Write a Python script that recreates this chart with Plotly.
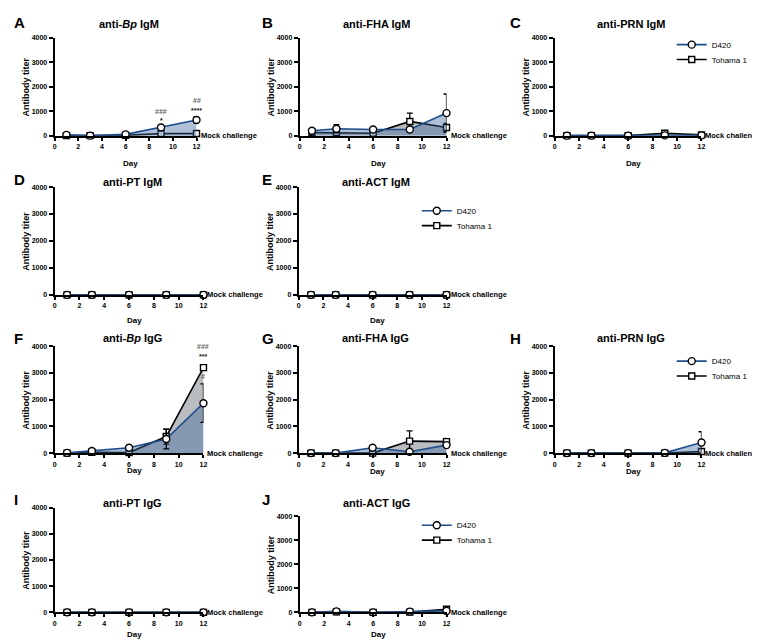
import plotly.graph_objects as go

# ---------------- data ----------------
days = [1, 3, 6, 9, 12]
x_ticks = [0, 2, 4, 6, 8, 10, 12]
y_ticks = [0, 1000, 2000, 3000, 4000]
series_names = ["D420", "Tohama 1"]

panel_letters = ["A", "B", "C", "D", "E", "F", "G", "H", "I", "J"]
panel_titles = ["anti-<i>Bp</i> IgM", "anti-FHA IgM", "anti-PRN IgM", "anti-PT IgM", "anti-ACT IgM",
                "anti-<i>Bp</i> IgG", "anti-FHA IgG", "anti-PRN IgG", "anti-PT IgG", "anti-ACT IgG"]

# D420 means / SEM
d420_bp_igm = [30, 0, 50, 330, 640]
d420_bp_igm_err = [20, 0, 20, 40, 130]
d420_fha_igm = [200, 280, 250, 250, 920]
d420_fha_igm_err = [40, 170, 40, 30, 780]
d420_prn_igm = [0, 0, 0, 10, 10]
d420_prn_igm_err = [0, 0, 0, 0, 0]
d420_pt_igm = [0, 0, 0, 0, 0]
d420_pt_igm_err = [0, 0, 0, 0, 0]
d420_act_igm = [0, 0, 0, 0, 0]
d420_act_igm_err = [0, 0, 0, 0, 0]
d420_bp_igg = [10, 80, 200, 530, 1870]
d420_bp_igg_err = [10, 20, 80, 370, 720]
d420_fha_igg = [0, 0, 200, 50, 300]
d420_fha_igg_err = [0, 0, 80, 20, 60]
d420_prn_igg = [0, 0, 0, 10, 400]
d420_prn_igg_err = [0, 0, 0, 10, 400]
d420_pt_igg = [0, 0, 0, 0, 0]
d420_pt_igg_err = [0, 0, 0, 0, 0]
d420_act_igg = [0, 40, 0, 30, 60]
d420_act_igg_err = [0, 10, 0, 10, 20]

# Tohama 1 means / SEM
toh_bp_igm = [0, 0, 10, 90, 90]
toh_bp_igm_err = [0, 0, 5, 10, 10]
toh_fha_igm = [130, 130, 100, 580, 330]
toh_fha_igm_err = [20, 40, 20, 340, 170]
toh_prn_igm = [0, 0, 0, 100, 30]
toh_prn_igm_err = [0, 0, 0, 0, 0]
toh_pt_igm = [0, 0, 0, 0, 0]
toh_pt_igm_err = [0, 0, 0, 0, 0]
toh_act_igm = [0, 0, 0, 0, 0]
toh_act_igm_err = [0, 0, 0, 0, 0]
toh_bp_igg = [0, 30, 20, 620, 3200]
toh_bp_igg_err = [0, 10, 10, 280, 20]
toh_fha_igg = [0, 0, 0, 450, 430]
toh_fha_igg_err = [0, 0, 0, 380, 120]
toh_prn_igg = [0, 0, 0, 0, 60]
toh_prn_igg_err = [0, 0, 0, 0, 10]
toh_pt_igg = [0, 0, 0, 0, 0]
toh_pt_igg_err = [0, 0, 0, 0, 0]
toh_act_igg = [0, 20, 0, 10, 130]
toh_act_igg_err = [0, 5, 0, 5, 20]

d420_all = [d420_bp_igm, d420_fha_igm, d420_prn_igm, d420_pt_igm, d420_act_igm,
            d420_bp_igg, d420_fha_igg, d420_prn_igg, d420_pt_igg, d420_act_igg]
d420_err_all = [d420_bp_igm_err, d420_fha_igm_err, d420_prn_igm_err, d420_pt_igm_err, d420_act_igm_err,
                d420_bp_igg_err, d420_fha_igg_err, d420_prn_igg_err, d420_pt_igg_err, d420_act_igg_err]
toh_all = [toh_bp_igm, toh_fha_igm, toh_prn_igm, toh_pt_igm, toh_act_igm,
           toh_bp_igg, toh_fha_igg, toh_prn_igg, toh_pt_igg, toh_act_igg]
toh_err_all = [toh_bp_igm_err, toh_fha_igm_err, toh_prn_igm_err, toh_pt_igm_err, toh_act_igm_err,
               toh_bp_igg_err, toh_fha_igg_err, toh_prn_igg_err, toh_pt_igg_err, toh_act_igg_err]

# significance marks: (panel index, day, y value, text, colour)
sig_marks = [
    (0, 9, 1000, "###", "#666"), (0, 9, 600, "*", "#222"),
    (0, 12, 1430, "##", "#666"), (0, 12, 1020, "****", "#222"),
    (5, 12, 3990, "###", "#666"), (5, 12, 3600, "***", "#222"),
    (5, 12, 2880, "#", "#666"),
]
legend_panels = [2, 4, 7, 9]

# ---------------- geometry (pixels) ----------------
W, H = 760, 639
# (x at 0, x at 12, y px at 4000, y px at 0)
geo = [
    (45, 188, 26, 125), (292, 440, 26, 125), (549, 697, 26, 125),
    (45, 195, 177, 286), (291, 440, 177, 286),
    (45, 195, 338, 446), (291, 440, 338, 446), (549, 697, 338, 446),
    (45, 195, 501, 607), (292, 440, 510, 607),
]
letter_pos = [(2, 11), (252, 11), (502, 11), (2, 169), (252, 169),
              (2, 330), (252, 330), (502, 330), (2, 493), (252, 493)]
title_y = [12, 12, 12, 172, 172, 330, 330, 330, 496, 496]
day_y = [153, 153, 153, 312, 312, 464, 465, 465, 629, 629]
legend_y = [33, 201, 353, 519]

FONT = "Liberation Sans, Arial, sans-serif"
BLUE = "#1f4e8c"
fill_d420 = "rgba(55,100,155,0.40)"
fill_toh = "rgba(70,80,92,0.38)"
MSIZE = 7

def px(x):
    return x / W

def py(y):
    return 1 - y / H

fig = go.Figure()
annotations = []
layout = dict(width=W, height=H, margin=dict(l=0, r=0, t=0, b=0),
              paper_bgcolor="white", plot_bgcolor="white",
              font=dict(family=FONT, color="black"), showlegend=True)

for i in range(10):
    n = "" if i == 0 else str(i + 1)
    xa, ya = "x" + n, "y" + n
    x0, x1, yt, yb = geo[i]
    layout["xaxis" + n] = dict(domain=[px(x0), px(x1)], range=[0, 12], anchor=ya,
                               tickvals=x_ticks, showline=True, linecolor="black", linewidth=2,
                               ticks="outside", ticklen=3, tickwidth=1.5, tickcolor="black",
                               showgrid=False, zeroline=False,
                               tickfont=dict(size=7, family=FONT, weight="bold", color="black"))
    layout["yaxis" + n] = dict(domain=[py(yb), py(yt)], range=[0, 4000], anchor=xa,
                               tickvals=y_ticks, showline=True, linecolor="black", linewidth=2,
                               ticks="outside", ticklen=4, tickwidth=1.5, tickcolor="black",
                               showgrid=False, zeroline=False,
                               tickfont=dict(size=7, family=FONT, weight="bold", color="black"))
    # Tohama 1 (squares, black)
    fig.add_trace(go.Scatter(x=days, y=toh_all[i], xaxis=xa, yaxis=ya, mode="lines+markers",
                             fill="tozeroy", fillcolor=fill_toh, cliponaxis=False,
                             line=dict(color="black", width=1.6),
                             marker=dict(symbol="square", size=MSIZE - 1, color="white",
                                         line=dict(color="black", width=1.4)),
                             error_y=dict(type="data", array=toh_err_all[i], color="black",
                                          thickness=1.3, width=3),
                             showlegend=False, name="Tohama 1"))
    # D420 (circles, blue)
    fig.add_trace(go.Scatter(x=days, y=d420_all[i], xaxis=xa, yaxis=ya, mode="lines+markers",
                             fill="tozeroy", fillcolor=fill_d420, cliponaxis=False,
                             line=dict(color=BLUE, width=1.6),
                             marker=dict(symbol="circle", size=MSIZE, color="white",
                                         line=dict(color="black", width=1.4)),
                             error_y=dict(type="data", array=d420_err_all[i], color="black",
                                          thickness=1.3, width=3),
                             showlegend=False, name="D420"))
    # letter
    lx, ly = letter_pos[i]
    annotations.append(dict(x=px(lx), y=py(ly), xref="paper", yref="paper", xanchor="left",
                            yanchor="middle", showarrow=False, text=panel_letters[i],
                            font=dict(size=15, family=FONT, weight="bold")))
    # title
    annotations.append(dict(x=px((x0 + x1) / 2 + 3), y=py(title_y[i]), xref="paper", yref="paper",
                            xanchor="center", yanchor="middle", showarrow=False, text=panel_titles[i],
                            font=dict(size=11, family=FONT, weight="bold")))
    # y title
    annotations.append(dict(x=px(x0 - 29), y=py((yt + yb) / 2), xref="paper", yref="paper",
                            xanchor="center", yanchor="middle", showarrow=False, textangle=-90,
                            text="Antibody titer", font=dict(size=9, family=FONT, weight="bold")))
    # x title
    annotations.append(dict(x=px((x0 + x1) / 2 + 5), y=py(day_y[i]), xref="paper", yref="paper",
                            xanchor="center", yanchor="middle", showarrow=False, text="Day",
                            font=dict(size=8, family=FONT, weight="bold")))
    # mock challenge
    annotations.append(dict(x=12, y=0, xref=xa, yref=ya, xanchor="left", yanchor="middle",
                            xshift=2, showarrow=False, text="Mock challenge",
                            font=dict(size=7.5, family=FONT, weight="bold")))

for (pi, d, yv, txt, col) in sig_marks:
    n = "" if pi == 0 else str(pi + 1)
    annotations.append(dict(x=d, y=yv, xref="x" + n, yref="y" + n, xanchor="center",
                            yanchor="middle", showarrow=False, text=txt,
                            font=dict(size=7, family=FONT, color=col, weight="bold")))

# legends: one legend box per entry so spacing can be matched
lg = 0
for k, pi in enumerate(legend_panels):
    x0, x1, yt, yb = geo[pi]
    for j in range(2):
        lname = "legend" if lg == 0 else "legend" + str(lg + 1)
        lg += 1
        layout[lname] = dict(x=px(x1 - 30), y=py(legend_y[k] + 15 * j), xanchor="left",
                             yanchor="middle", bgcolor="rgba(0,0,0,0)",
                             font=dict(size=8, family=FONT), itemwidth=30, tracegroupgap=0)
        if j == 0:
            fig.add_trace(go.Scatter(x=[None], y=[None], mode="lines+markers", name=series_names[0],
                                     legend=lname, line=dict(color=BLUE, width=1.6),
                                     marker=dict(symbol="circle", size=MSIZE, color="white",
                                                 line=dict(color="black", width=1.4))))
        else:
            fig.add_trace(go.Scatter(x=[None], y=[None], mode="lines+markers", name=series_names[1],
                                     legend=lname, line=dict(color="black", width=1.6),
                                     marker=dict(symbol="square", size=MSIZE - 1, color="white",
                                                 line=dict(color="black", width=1.4))))

layout["annotations"] = annotations
fig.update_layout(**layout)
fig.write_html("out.html")
